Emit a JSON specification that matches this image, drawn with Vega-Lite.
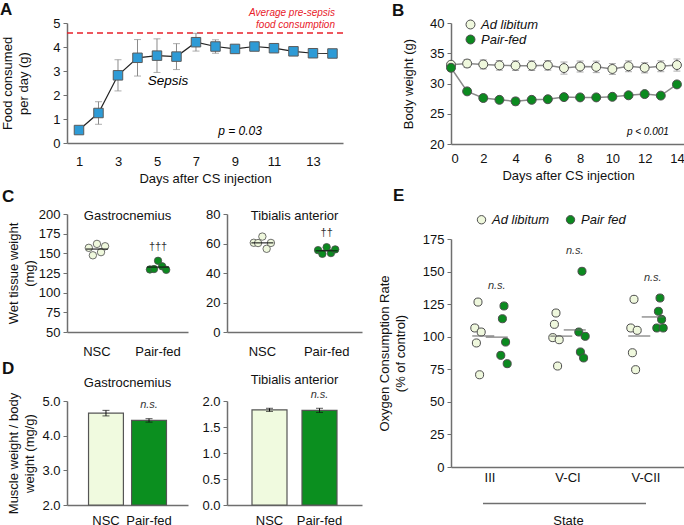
{
  "$schema": "https://vega.github.io/schema/vega-lite/v6.json",
  "background": "white",
  "padding": {"left": 0, "top": 0, "right": 0, "bottom": 3},
  "spacing": 16,
  "resolve": {"scale": {"fill": "independent", "xOffset": "independent"}, "legend": {"fill": "independent"}},
  "config": {
    "font": "Liberation Sans",
    "view": {"stroke": null},
    "axis": {"grid": false, "domainColor": "#6f6f6f", "domainWidth": 1.5, "tickColor": "#6f6f6f", "tickWidth": 1, "tickSize": 4, "labelColor": "#111111", "titleColor": "#111111", "labelFontSize": 13, "titleFontSize": 13, "titleFontWeight": "normal", "labelFont": "Liberation Sans", "titleFont": "Liberation Sans", "labelPadding": 3, "titleLineHeight": 16},
    "axisX": {"ticks": false, "tickSize": 0, "labelAngle": 0},
    "title": {"font": "Liberation Sans", "fontSize": 13, "fontWeight": "normal", "color": "#111111"},
    "legend": {"labelFont": "Liberation Sans", "labelColor": "#111111"}
  },
  "hconcat": [
    {
      "spacing": 3,
      "resolve": {"scale": {"fill": "independent", "xOffset": "independent"}, "legend": {"fill": "independent"}},
      "vconcat": [
        {
          "width": 276,
          "height": 120,
          "title": {"text": "A", "anchor": "start", "frame": "group", "fontSize": 17, "fontWeight": "bold", "dx": -67, "dy": 11, "offset": 0},
          "data": {"values": [
            {"day": 1, "food": 0.54, "sem": 0.06},
            {"day": 2, "food": 1.25, "sem": 0.47},
            {"day": 3, "food": 2.82, "sem": 0.65},
            {"day": 4, "food": 3.55, "sem": 0.76},
            {"day": 5, "food": 3.64, "sem": 0.7},
            {"day": 6, "food": 3.6, "sem": 0.54},
            {"day": 7, "food": 4.2, "sem": 0.37},
            {"day": 8, "food": 4.02, "sem": 0.28},
            {"day": 9, "food": 3.92, "sem": 0.1},
            {"day": 10, "food": 4.02, "sem": 0.08},
            {"day": 11, "food": 3.95, "sem": 0.1},
            {"day": 12, "food": 3.82, "sem": 0.12},
            {"day": 13, "food": 3.74, "sem": 0.1},
            {"day": 14, "food": 3.73, "sem": 0.15}
          ]},
          "encoding": {
            "x": {"field": "day", "type": "quantitative", "scale": {"domain": [0.385, 14.54], "nice": false, "zero": false}, "axis": {"values": [1, 3, 5, 7, 9, 11, 13], "title": "Days after CS injection", "labelPadding": 12, "titlePadding": 4}},
            "y": {"field": "food", "type": "quantitative", "scale": {"domain": [0, 5], "nice": false}, "axis": {"values": [0, 1, 2, 3, 4, 5], "title": ["Food consumed", "per day (g)"], "titlePadding": 22}}
          },
          "layer": [
            {"mark": {"type": "rule", "color": "#e8202a", "strokeDash": [6, 4], "strokeWidth": 1.5}, "encoding": {"x": {"datum": 0.385}, "x2": {"datum": 14.54}, "y": {"datum": 4.58}, "strokeOpacity": {"condition": {"test": "datum.day === 1", "value": 1}, "value": 0}}},
            {"mark": {"type": "text", "color": "#e8202a", "fontStyle": "italic", "fontSize": 10, "align": "right", "baseline": "middle", "dy": -20.5}, "encoding": {"x": {"datum": 14.13}, "y": {"datum": 4.58}, "text": {"condition": {"test": "datum.day === 1", "value": "Average pre-sepsis"}, "value": ""}}},
            {"mark": {"type": "text", "color": "#e8202a", "fontStyle": "italic", "fontSize": 10, "align": "right", "baseline": "middle", "dy": -8.5}, "encoding": {"x": {"datum": 14.13}, "y": {"datum": 4.58}, "text": {"condition": {"test": "datum.day === 1", "value": "food consumption"}, "value": ""}}},
            {"mark": {"type": "errorbar", "ticks": true, "size": 7, "thickness": 1, "color": "#8a8a8a"}, "encoding": {"yError": {"field": "sem"}}},
            {"mark": {"type": "line", "color": "#222222", "strokeWidth": 1.2}},
            {"mark": {"type": "square", "size": 90, "fill": "#2e9bd6", "stroke": "#5a5a5a", "strokeWidth": 1, "opacity": 1}},
            {"mark": {"type": "text", "fontStyle": "italic", "fontSize": 13.5, "baseline": "middle"}, "encoding": {"x": {"datum": 5.56}, "y": {"datum": 2.57}, "text": {"condition": {"test": "datum.day === 1", "value": "Sepsis"}, "value": ""}}},
            {"mark": {"type": "text", "fontStyle": "italic", "fontSize": 12, "baseline": "middle"}, "encoding": {"x": {"datum": 9.26}, "y": {"datum": 0.49}, "text": {"condition": {"test": "datum.day === 1", "value": "p = 0.03"}, "value": ""}}}
          ]
        },
        {
          "spacing": 1,
          "resolve": {"scale": {"fill": "independent", "xOffset": "independent"}, "legend": {"fill": "independent"}},
          "vconcat": [
            {
              "title": {"text": "C", "anchor": "start", "frame": "group", "fontSize": 17, "fontWeight": "bold", "dx": -65, "offset": 2},
              "bounds": "flush",
              "spacing": 39,
              "resolve": {"scale": {"fill": "independent", "xOffset": "independent"}, "legend": {"fill": "independent"}},
              "hconcat": [
                {
                  "width": 121,
                  "height": 118,
                  "title": {"text": "Gastrocnemius", "offset": 0, "dy": 15},
                  "data": {"values": [
                    {"group": "NSC", "rep": 1, "weight": 157},
                    {"group": "NSC", "rep": 2, "weight": 147.5},
                    {"group": "NSC", "rep": 3, "weight": 162},
                    {"group": "NSC", "rep": 4, "weight": 151.5},
                    {"group": "NSC", "rep": 5, "weight": 159},
                    {"group": "Pair-fed", "rep": 1, "weight": 129.5},
                    {"group": "Pair-fed", "rep": 2, "weight": 130},
                    {"group": "Pair-fed", "rep": 3, "weight": 140.5},
                    {"group": "Pair-fed", "rep": 4, "weight": 133.5},
                    {"group": "Pair-fed", "rep": 5, "weight": 129}
                  ]},
                  "encoding": {
                    "x": {"field": "group", "type": "nominal", "scale": {"domain": ["NSC", "Pair-fed"], "paddingInner": 0.6, "paddingOuter": 0.29}, "axis": {"title": null, "labelPadding": 13}},
                    "y": {"field": "weight", "type": "quantitative", "scale": {"domain": [50, 200], "nice": false, "zero": false}, "axis": {"values": [50, 75, 100, 125, 150, 175, 200], "title": ["Wet tissue weight", "(mg)"], "titlePadding": 2}}
                  },
                  "layer": [
                    {"mark": {"type": "circle", "size": 55, "stroke": "#4d4d4d", "strokeWidth": 0.8, "opacity": 1},
                     "encoding": {
                       "xOffset": {"field": "rep", "type": "nominal", "scale": {"type": "point", "padding": 2}},
                       "fill": {"field": "group", "type": "nominal", "scale": {"domain": ["NSC", "Pair-fed"], "range": ["#eff8dd", "#0b8a1f"]}, "legend": null}
                     }},
                    {"transform": [{"aggregate": [{"op": "mean", "field": "weight", "as": "weight"}], "groupby": ["group"]}],
                     "mark": {"type": "tick", "size": 22, "thickness": 1.5, "color": "#111111"}},
                    {"transform": [{"filter": "datum.group === 'Pair-fed'"}, {"aggregate": [{"op": "max", "field": "weight", "as": "weight"}], "groupby": ["group"]}],
                     "mark": {"type": "text", "text": "†††", "dy": -14, "fontSize": 11, "color": "#333333", "baseline": "middle"}}
                  ]
                },
                {
                  "width": 135,
                  "height": 118,
                  "title": {"text": "Tibialis anterior", "offset": 0, "dy": 15},
                  "data": {"values": [
                    {"group": "NSC", "rep": 1, "weight": 60.5},
                    {"group": "NSC", "rep": 2, "weight": 60.3},
                    {"group": "NSC", "rep": 3, "weight": 64.7},
                    {"group": "NSC", "rep": 4, "weight": 56.4},
                    {"group": "NSC", "rep": 5, "weight": 60.4},
                    {"group": "Pair-fed", "rep": 1, "weight": 55.5},
                    {"group": "Pair-fed", "rep": 2, "weight": 53},
                    {"group": "Pair-fed", "rep": 3, "weight": 57.5},
                    {"group": "Pair-fed", "rep": 4, "weight": 53.5},
                    {"group": "Pair-fed", "rep": 5, "weight": 56}
                  ]},
                  "encoding": {
                    "x": {"field": "group", "type": "nominal", "scale": {"domain": ["NSC", "Pair-fed"], "paddingInner": 0.6, "paddingOuter": 0.35}, "axis": {"title": null, "labelPadding": 13}},
                    "y": {"field": "weight", "type": "quantitative", "scale": {"domain": [0, 80], "nice": false}, "axis": {"values": [0, 20, 40, 60, 80], "title": null}}
                  },
                  "layer": [
                    {"mark": {"type": "circle", "size": 55, "stroke": "#4d4d4d", "strokeWidth": 0.8, "opacity": 1},
                     "encoding": {
                       "xOffset": {"field": "rep", "type": "nominal", "scale": {"type": "point", "padding": 2}},
                       "fill": {"field": "group", "type": "nominal", "scale": {"domain": ["NSC", "Pair-fed"], "range": ["#eff8dd", "#0b8a1f"]}, "legend": null}
                     }},
                    {"transform": [{"aggregate": [{"op": "mean", "field": "weight", "as": "weight"}], "groupby": ["group"]}],
                     "mark": {"type": "tick", "size": 22, "thickness": 1.5, "color": "#111111"}},
                    {"transform": [{"filter": "datum.group === 'Pair-fed'"}, {"aggregate": [{"op": "max", "field": "weight", "as": "weight"}], "groupby": ["group"]}],
                     "mark": {"type": "text", "text": "††", "dy": -14, "fontSize": 11, "color": "#333333", "baseline": "middle"}}
                  ]
                }
              ]
            },
            {
              "title": {"text": "D", "anchor": "start", "frame": "group", "fontSize": 17, "fontWeight": "bold", "dx": -65, "offset": -3.5},
              "bounds": "flush",
              "spacing": 39,
              "resolve": {"scale": {"fill": "independent", "xOffset": "independent"}, "legend": {"fill": "independent"}},
              "hconcat": [
                {
                  "width": 121,
                  "height": 104,
                  "title": {"text": "Gastrocnemius", "offset": 2},
                  "data": {"values": [
                    {"group": "NSC", "ratio": 4.65, "sem": 0.08},
                    {"group": "Pair-fed", "ratio": 4.44, "sem": 0.05}
                  ]},
                  "encoding": {
                    "x": {"field": "group", "type": "nominal", "scale": {"domain": ["NSC", "Pair-fed"], "paddingInner": 0.19, "paddingOuter": 0.5}, "axis": {"title": null, "labelPadding": 9}},
                    "y": {"field": "ratio", "type": "quantitative", "scale": {"domain": [2, 5], "nice": false, "zero": false, "clamp": true}, "axis": {"values": [2, 3, 4, 5], "format": ".1f", "title": ["Muscle weight / body", "weight (mg/g)"], "titlePadding": 5}}
                  },
                  "layer": [
                    {"mark": {"type": "bar", "stroke": "#555555", "strokeWidth": 1.2}, "encoding": {"fill": {"field": "group", "type": "nominal", "scale": {"domain": ["NSC", "Pair-fed"], "range": ["#f0fadf", "#0b8f1f"]}, "legend": null}}},
                    {"mark": {"type": "errorbar", "ticks": true, "size": 7, "thickness": 1, "color": "#111111"}, "encoding": {"yError": {"field": "sem"}}},
                    {"transform": [{"filter": "datum.group === 'Pair-fed'"}], "mark": {"type": "text", "text": "n.s.", "fontStyle": "italic", "fontSize": 11, "dy": -15, "baseline": "middle", "color": "#333333"}}
                  ]
                },
                {
                  "width": 135,
                  "height": 104,
                  "title": {"text": "Tibialis anterior", "offset": 2},
                  "data": {"values": [
                    {"group": "NSC", "ratio": 1.83, "sem": 0.03},
                    {"group": "Pair-fed", "ratio": 1.82, "sem": 0.04}
                  ]},
                  "encoding": {
                    "x": {"field": "group", "type": "nominal", "scale": {"domain": ["NSC", "Pair-fed"], "paddingInner": 0.3, "paddingOuter": 0.5}, "axis": {"title": null, "labelPadding": 9}},
                    "y": {"field": "ratio", "type": "quantitative", "scale": {"domain": [0, 2], "nice": false}, "axis": {"values": [0, 0.5, 1, 1.5, 2], "format": ".1f", "title": null}}
                  },
                  "layer": [
                    {"mark": {"type": "bar", "stroke": "#555555", "strokeWidth": 1.2}, "encoding": {"fill": {"field": "group", "type": "nominal", "scale": {"domain": ["NSC", "Pair-fed"], "range": ["#f0fadf", "#0b8f1f"]}, "legend": null}}},
                    {"mark": {"type": "errorbar", "ticks": true, "size": 7, "thickness": 1, "color": "#111111"}, "encoding": {"yError": {"field": "sem"}}},
                    {"transform": [{"filter": "datum.group === 'Pair-fed'"}], "mark": {"type": "text", "text": "n.s.", "fontStyle": "italic", "fontSize": 11, "dy": -15, "baseline": "middle", "color": "#333333"}}
                  ]
                }
              ]
            }
          ]
        }
      ]
    },
    {
      "bounds": "flush",
      "spacing": 95,
      "resolve": {"scale": {"fill": "independent", "xOffset": "independent"}, "legend": {"fill": "independent"}},
      "vconcat": [
        {
          "width": 234,
          "height": 121,
          "title": {"text": "B", "anchor": "start", "frame": "group", "fontSize": 17, "fontWeight": "bold", "dx": -59, "dy": 3, "offset": 0},
          "data": {"values": [
            {"day": 0, "group": "Ad libitum", "weight": 33.1, "sem": 0.4},
            {"day": 1, "group": "Ad libitum", "weight": 33.3, "sem": 0.65},
            {"day": 2, "group": "Ad libitum", "weight": 33.15, "sem": 0.75},
            {"day": 3, "group": "Ad libitum", "weight": 33.0, "sem": 0.8},
            {"day": 4, "group": "Ad libitum", "weight": 32.95, "sem": 0.8},
            {"day": 5, "group": "Ad libitum", "weight": 32.95, "sem": 0.8},
            {"day": 6, "group": "Ad libitum", "weight": 33.0, "sem": 0.8},
            {"day": 7, "group": "Ad libitum", "weight": 32.55, "sem": 1.0},
            {"day": 8, "group": "Ad libitum", "weight": 32.8, "sem": 0.9},
            {"day": 9, "group": "Ad libitum", "weight": 32.75, "sem": 0.95},
            {"day": 10, "group": "Ad libitum", "weight": 32.4, "sem": 0.9},
            {"day": 11, "group": "Ad libitum", "weight": 32.85, "sem": 0.9},
            {"day": 12, "group": "Ad libitum", "weight": 32.6, "sem": 0.85},
            {"day": 13, "group": "Ad libitum", "weight": 32.85, "sem": 0.9},
            {"day": 14, "group": "Ad libitum", "weight": 33.05, "sem": 1.0},
            {"day": 0, "group": "Pair-fed", "weight": 32.6, "sem": 0.5},
            {"day": 1, "group": "Pair-fed", "weight": 28.7, "sem": 0.4},
            {"day": 2, "group": "Pair-fed", "weight": 27.6, "sem": 0.5},
            {"day": 3, "group": "Pair-fed", "weight": 27.3, "sem": 0.55},
            {"day": 4, "group": "Pair-fed", "weight": 27.05, "sem": 0.6},
            {"day": 5, "group": "Pair-fed", "weight": 27.3, "sem": 0.5},
            {"day": 6, "group": "Pair-fed", "weight": 27.4, "sem": 0.4},
            {"day": 7, "group": "Pair-fed", "weight": 27.75, "sem": 0.4},
            {"day": 8, "group": "Pair-fed", "weight": 27.7, "sem": 0.35},
            {"day": 9, "group": "Pair-fed", "weight": 27.7, "sem": 0.35},
            {"day": 10, "group": "Pair-fed", "weight": 27.8, "sem": 0.4},
            {"day": 11, "group": "Pair-fed", "weight": 28.05, "sem": 0.4},
            {"day": 12, "group": "Pair-fed", "weight": 28.25, "sem": 0.4},
            {"day": 13, "group": "Pair-fed", "weight": 28.0, "sem": 0.4},
            {"day": 14, "group": "Pair-fed", "weight": 29.85, "sem": 0.4}
          ]},
          "encoding": {
            "x": {"field": "day", "type": "quantitative", "scale": {"domain": [0, 14.5], "nice": false}, "axis": {"values": [0, 2, 4, 6, 8, 10, 12, 14], "title": "Days after CS injection", "labelPadding": 8, "titlePadding": 4}},
            "y": {"field": "weight", "type": "quantitative", "scale": {"domain": [20, 40], "nice": false, "zero": false}, "axis": {"values": [20, 25, 30, 35, 40], "title": "Body weight (g)", "titlePadding": 14}}
          },
          "layer": [
            {"mark": {"type": "errorbar", "ticks": true, "size": 7, "thickness": 1, "color": "#8a8a8a"}, "encoding": {"yError": {"field": "sem"}, "detail": {"field": "group"}}},
            {"mark": {"type": "line", "color": "#8a8a8a", "strokeWidth": 1.5}, "encoding": {"detail": {"field": "group"}}},
            {"mark": {"type": "circle", "size": 80, "stroke": "#4d4d4d", "strokeWidth": 1, "opacity": 1},
             "encoding": {"fill": {"field": "group", "type": "nominal", "scale": {"domain": ["Ad libitum", "Pair-fed"], "range": ["#eff8dd", "#0b8a1f"]},
               "legend": {"title": null, "orient": "none", "legendX": 13, "legendY": -5, "symbolType": "circle", "symbolSize": 80, "symbolStrokeColor": "#4d4d4d", "symbolStrokeWidth": 1, "labelFontStyle": "italic", "labelFontSize": 13, "rowPadding": 1, "padding": 0}}}},
            {"mark": {"type": "text", "fontStyle": "italic", "fontSize": 10, "align": "right", "baseline": "middle"}, "encoding": {"x": {"datum": 13.5}, "y": {"datum": 22.0}, "text": {"condition": {"test": "datum.day === 0 && datum.group === 'Ad libitum'", "value": "p < 0.001"}, "value": ""}}}
          ]
        },
        {
          "width": 234,
          "height": 228,
          "title": {"text": "E", "anchor": "start", "frame": "group", "fontSize": 17, "fontWeight": "bold", "dx": -58, "offset": 8},
          "data": {"values": [
            {"state": "III", "group": "Ad libitum", "rep": 1, "ocr": 106.7},
            {"state": "III", "group": "Ad libitum", "rep": 2, "ocr": 95.2},
            {"state": "III", "group": "Ad libitum", "rep": 3, "ocr": 126.6},
            {"state": "III", "group": "Ad libitum", "rep": 4, "ocr": 70.8},
            {"state": "III", "group": "Ad libitum", "rep": 5, "ocr": 103.6},
            {"state": "III", "group": "Pair fed", "rep": 1, "ocr": 85.7},
            {"state": "III", "group": "Pair fed", "rep": 2, "ocr": 113.8},
            {"state": "III", "group": "Pair fed", "rep": 3, "ocr": 123.6},
            {"state": "III", "group": "Pair fed", "rep": 4, "ocr": 95.9},
            {"state": "III", "group": "Pair fed", "rep": 5, "ocr": 79.3},
            {"state": "V-CI", "group": "Ad libitum", "rep": 1, "ocr": 99.3},
            {"state": "V-CI", "group": "Ad libitum", "rep": 2, "ocr": 109.5},
            {"state": "V-CI", "group": "Ad libitum", "rep": 3, "ocr": 118.2},
            {"state": "V-CI", "group": "Ad libitum", "rep": 4, "ocr": 77.5},
            {"state": "V-CI", "group": "Ad libitum", "rep": 5, "ocr": 97.7},
            {"state": "V-CI", "group": "Pair fed", "rep": 1, "ocr": 103.6},
            {"state": "V-CI", "group": "Pair fed", "rep": 2, "ocr": 88.3},
            {"state": "V-CI", "group": "Pair fed", "rep": 3, "ocr": 150.2},
            {"state": "V-CI", "group": "Pair fed", "rep": 4, "ocr": 83.7},
            {"state": "V-CI", "group": "Pair fed", "rep": 5, "ocr": 100.3},
            {"state": "V-CII", "group": "Ad libitum", "rep": 1, "ocr": 106.7},
            {"state": "V-CII", "group": "Ad libitum", "rep": 2, "ocr": 87.7},
            {"state": "V-CII", "group": "Ad libitum", "rep": 3, "ocr": 128.7},
            {"state": "V-CII", "group": "Ad libitum", "rep": 4, "ocr": 74.7},
            {"state": "V-CII", "group": "Ad libitum", "rep": 5, "ocr": 104.9},
            {"state": "V-CII", "group": "Pair fed", "rep": 1, "ocr": 106.7},
            {"state": "V-CII", "group": "Pair fed", "rep": 2, "ocr": 119.5},
            {"state": "V-CII", "group": "Pair fed", "rep": 3, "ocr": 129.7},
            {"state": "V-CII", "group": "Pair fed", "rep": 4, "ocr": 113.3},
            {"state": "V-CII", "group": "Pair fed", "rep": 5, "ocr": 106.7}
          ]},
          "encoding": {
            "x": {"field": "state", "type": "nominal", "scale": {"domain": ["III", "V-CI", "V-CII"], "paddingInner": 0, "paddingOuter": 0}, "axis": {"title": "State", "labelPadding": 4, "titlePadding": 30}},
            "y": {"field": "ocr", "type": "quantitative", "scale": {"domain": [0, 175], "nice": false}, "axis": {"values": [0, 25, 50, 75, 100, 125, 150, 175], "title": ["Oxygen Consumption Rate", "(% of control)"], "titlePadding": 15}}
          },
          "layer": [
            {"mark": {"type": "rule", "color": "#6f6f6f", "strokeWidth": 1.3}, "encoding": {"x": {"datum": "III", "bandPosition": 0.41}, "x2": {"datum": "V-CII"}, "x2Offset": {"value": 10}, "y": {"datum": -28}, "strokeOpacity": {"condition": {"test": "datum.state === 'III' && datum.group === 'Ad libitum' && datum.rep === 1", "value": 1}, "value": 0}}},
            {"transform": [{"filter": "datum.group === 'Ad libitum'"}],
             "mark": {"type": "circle", "size": 65, "stroke": "#4d4d4d", "strokeWidth": 1, "opacity": 1},
             "encoding": {
               "xOffset": {"field": "rep", "type": "nominal", "scale": {"type": "point", "range": [23, 31]}},
               "fill": {"field": "group", "type": "nominal", "scale": {"domain": ["Ad libitum", "Pair fed"], "range": ["#eff8dd", "#0b8a1f"]},
                 "legend": {"title": null, "orient": "none", "legendX": 24, "legendY": -26, "direction": "horizontal", "symbolType": "circle", "symbolSize": 70, "symbolStrokeColor": "#4d4d4d", "symbolStrokeWidth": 1, "labelFontStyle": "italic", "labelFontSize": 13, "columnPadding": 14, "padding": 0}}
             }},
            {"transform": [{"filter": "datum.group === 'Pair fed'"}],
             "mark": {"type": "circle", "size": 65, "stroke": "#4d4d4d", "strokeWidth": 1, "opacity": 1},
             "encoding": {
               "xOffset": {"field": "rep", "type": "nominal", "scale": {"type": "point", "range": [49, 57]}},
               "fill": {"field": "group", "type": "nominal", "scale": {"domain": ["Ad libitum", "Pair fed"], "range": ["#eff8dd", "#0b8a1f"]}}
             }},
            {"transform": [{"aggregate": [{"op": "mean", "field": "ocr", "as": "ocr"}], "groupby": ["state", "group"]}],
             "mark": {"type": "tick", "size": 22, "thickness": 1.5, "color": "#666666"},
             "encoding": {"xOffset": {"field": "group", "type": "nominal", "scale": {"type": "point", "domain": ["Ad libitum", "Pair fed"], "range": [25.5, 52.5]}}}},
            {"transform": [{"filter": "datum.group === 'Pair fed'"}, {"aggregate": [{"op": "max", "field": "ocr", "as": "ocr"}], "groupby": ["state", "group"]}],
             "mark": {"type": "text", "text": "n.s.", "fontStyle": "italic", "fontSize": 11, "dy": -20, "baseline": "middle", "color": "#333333"},
             "encoding": {"xOffset": {"field": "group", "type": "nominal", "scale": {"type": "point", "domain": ["Ad libitum", "Pair fed"], "range": [25.5, 52.5]}}}}
          ],
          "resolve": {"scale": {"xOffset": "independent"}}
        }
      ]
    }
  ]
}
